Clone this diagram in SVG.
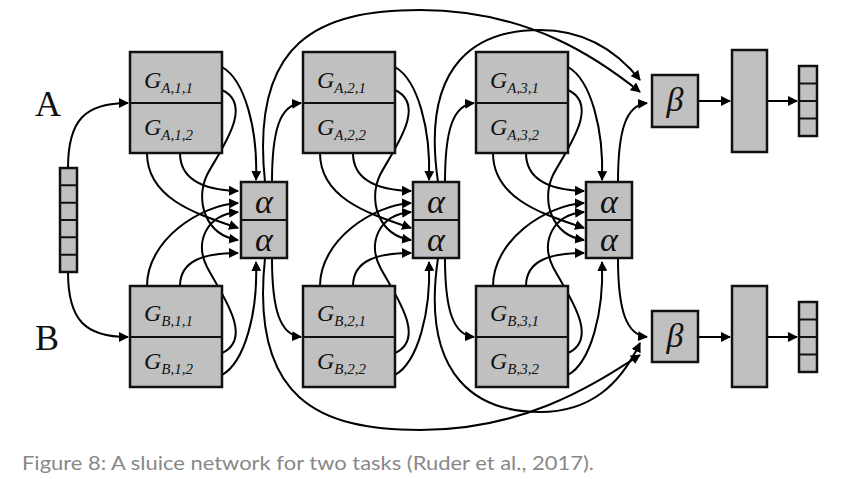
<svg xmlns="http://www.w3.org/2000/svg" width="859" height="479" viewBox="0 0 859 479">
<style>
.b{fill:#c0c0c0;stroke:#111;stroke-width:2.5}
.l{fill:none;stroke:#111;stroke-width:2}
.c{fill:none;stroke:#000;stroke-width:2;marker-end:url(#ah)}
.g{font-family:"Liberation Serif",serif;font-style:italic;font-size:24px;fill:#111}
.s{font-size:15px}
.al{font-family:"Liberation Serif",serif;font-style:italic;font-size:34px;fill:#111;text-anchor:middle}
.t{font-family:"Liberation Serif",serif;font-size:36px;fill:#111}
</style>
<defs>
<marker id="ah" viewBox="0 0 10 10" refX="9" refY="5" markerWidth="5" markerHeight="5" orient="auto"><path d="M0,0L10,5L0,10z" fill="#000"/></marker>
<g id="stage">
<path class="c" d="M222,67 C245,80 258,130 256,180"/>
<path class="c" d="M222,90 C255,105 220,150 207,175 C195,200 205,235 238,240"/>
<path class="c" d="M180,153 C180,180 205,190 238,191"/>
<path class="c" d="M147,153 C147,200 200,215 238,228"/>
<path class="c" d="M147,286 C147,240 200,205 238,203"/>
<path class="c" d="M180,286 C180,260 205,253 238,253"/>
<path class="c" d="M222,353 C255,338 220,292 207,267 C195,243 205,215 238,212"/>
<path class="c" d="M222,375 C245,362 258,312 256,262"/>
<path class="c" d="M272,182 C272,130 280,105 301,103"/>
<path class="c" d="M272,258 C272,310 280,335 301,337"/>
</g>
</defs>
<g id="connectors">
<path class="c" d="M68,168 C68,120 85,103 128,103"/>
<path class="c" d="M68,272 C68,320 85,337 128,337"/>
<use href="#stage"/>
<use href="#stage" x="173"/>
<use href="#stage" x="346"/>
<path class="c" d="M265,182 C250,40 320,10 420,10 C530,10 600,60 640,92"/>
<path class="c" d="M438,182 C420,60 480,30 540,30 C590,30 620,55 640,80"/>
<path class="c" d="M265,258 C250,400 320,430 420,430 C530,430 600,380 640,355"/>
<path class="c" d="M438,258 C420,380 480,412 540,412 C590,412 620,385 640,343"/>
<path class="c" d="M698,101 L730,101"/>
<path class="c" d="M767,101 L797,101"/>
<path class="c" d="M698,337 L730,337"/>
<path class="c" d="M767,337 L797,337"/>
</g>
<g id="input"><rect class="b" x="60" y="168" width="17" height="104" stroke-width="2"/>
<path class="l" d="M60,185.3h17M60,202.7h17M60,220h17M60,237.3h17M60,254.7h17"/></g>
<text class="t" x="35" y="116">A</text>
<text class="t" x="35" y="350">B</text>
<g id="GA1"><rect class="b" x="130" y="52" width="92" height="101"/><path class="l" d="M130,103h92"/><text class="g" x="144" y="88">G<tspan class="s" dy="5">A,1,1</tspan></text><text class="g" x="144" y="135">G<tspan class="s" dy="5">A,1,2</tspan></text></g>
<g id="GA2"><rect class="b" x="303" y="52" width="92" height="101"/><path class="l" d="M303,103h92"/><text class="g" x="317" y="88">G<tspan class="s" dy="5">A,2,1</tspan></text><text class="g" x="317" y="135">G<tspan class="s" dy="5">A,2,2</tspan></text></g>
<g id="GA3"><rect class="b" x="476" y="52" width="92" height="101"/><path class="l" d="M476,103h92"/><text class="g" x="490" y="88">G<tspan class="s" dy="5">A,3,1</tspan></text><text class="g" x="490" y="135">G<tspan class="s" dy="5">A,3,2</tspan></text></g>
<g id="GB1"><rect class="b" x="130" y="286" width="92" height="101"/><path class="l" d="M130,337h92"/><text class="g" x="144" y="321">G<tspan class="s" dy="5">B,1,1</tspan></text><text class="g" x="144" y="369">G<tspan class="s" dy="5">B,1,2</tspan></text></g>
<g id="GB2"><rect class="b" x="303" y="286" width="92" height="101"/><path class="l" d="M303,337h92"/><text class="g" x="317" y="321">G<tspan class="s" dy="5">B,2,1</tspan></text><text class="g" x="317" y="369">G<tspan class="s" dy="5">B,2,2</tspan></text></g>
<g id="GB3"><rect class="b" x="476" y="286" width="92" height="101"/><path class="l" d="M476,337h92"/><text class="g" x="490" y="321">G<tspan class="s" dy="5">B,3,1</tspan></text><text class="g" x="490" y="369">G<tspan class="s" dy="5">B,3,2</tspan></text></g>
<g id="alpha1"><rect class="b" x="241" y="182" width="46" height="76"/><path class="l" d="M241,220h46"/><text class="al" x="264" y="213">α</text><text class="al" x="264" y="251">α</text></g>
<g id="alpha2"><rect class="b" x="413" y="182" width="46" height="76"/><path class="l" d="M413,220h46"/><text class="al" x="436" y="213">α</text><text class="al" x="436" y="251">α</text></g>
<g id="alpha3"><rect class="b" x="586" y="182" width="46" height="76"/><path class="l" d="M586,220h46"/><text class="al" x="609" y="213">α</text><text class="al" x="609" y="251">α</text></g>
<g id="betaA"><rect class="b" x="652" y="75" width="46" height="52"/><text class="al" x="675" y="111">β</text></g>
<g id="betaB"><rect class="b" x="652" y="311" width="46" height="51"/><text class="al" x="675" y="347">β</text></g>
<g id="layerA"><rect class="b" x="732" y="50" width="35" height="102"/></g>
<g id="layerB"><rect class="b" x="732" y="286" width="35" height="101"/></g>
<g id="outA"><rect class="b" x="799" y="66" width="18" height="70" stroke-width="2"/><path class="l" d="M799,83.5h18M799,101h18M799,118.5h18"/></g>
<g id="outB"><rect class="b" x="799" y="302" width="18" height="70" stroke-width="2"/><path class="l" d="M799,319.5h18M799,337h18M799,354.5h18"/></g>
<text x="22" y="470" font-family="Lato, 'Liberation Sans', sans-serif" font-size="20" fill="#888" textLength="572" lengthAdjust="spacingAndGlyphs">Figure 8: A sluice network for two tasks (Ruder et al., 2017).</text>
</svg>
